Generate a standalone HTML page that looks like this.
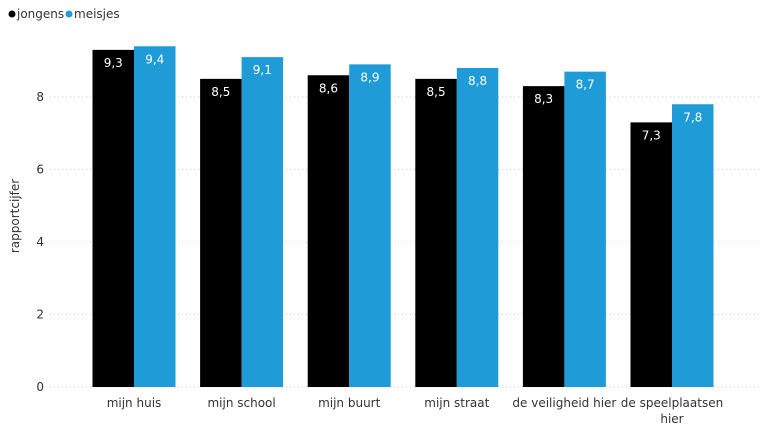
<!DOCTYPE html>
<html><head><meta charset="utf-8"><style>
body{margin:0;background:#fff;font-family:"DejaVu Sans","Liberation Sans",sans-serif;}
svg text{font-family:"DejaVu Sans","Liberation Sans",sans-serif;}
</style></head><body>
<svg id="chart" width="768" height="432">
  <g>
    <g><circle cx="12" cy="14" r="3.5" fill="#000"/><text x="17" y="18" font-size="12" fill="#333">jongens</text></g>
    <g><circle cx="69" cy="14" r="3.5" fill="#1f9bd7"/><text x="74" y="18" font-size="12" fill="#333">meisjes</text></g>
  </g>
  <text x="19" y="216" font-size="12" fill="#333" transform="rotate(-90 19 216)" text-anchor="middle">rapportcijfer</text>
  <g id="grid"></g><g id="bars"></g><g id="xlabels"></g>
</svg>
<script>
const categories=["mijn huis","mijn school","mijn buurt","mijn straat","de veiligheid hier","de speelplaatsen hier"];
const jongens=[9.3,8.5,8.6,8.5,8.3,7.3];
const meisjes=[9.4,9.1,8.9,8.8,8.7,7.8];
const yTicks=[0,2,4,6,8];
const NS="http://www.w3.org/2000/svg";
const y0=387,unit=36.25,bandStart=80.2,band=107.6,barW=41.5;
function y(v){return y0-v*unit;}
function x(i){return bandStart+i*band;}
function mk(t,a,p){const e=document.createElementNS(NS,t);for(const k in a)e.setAttribute(k,a[k]);p.appendChild(e);return e;}
const grid=document.getElementById('grid'),bars=document.getElementById('bars'),xl=document.getElementById('xlabels');
yTicks.forEach(v=>{
  const l=mk('line',{x1:50,x2:760,y1:y(v),y2:y(v),stroke:'#ccc','stroke-dasharray':'1,3'},grid);
  
  
  const t=mk('text',{x:44,y:y(v)+4,'font-size':12,fill:'#333','text-anchor':'end'},grid);
  t.textContent=v;
  
  
});
function fmt(v){return v.toFixed(1).replace('.',',');}
categories.forEach((c,i)=>{
  const cx=x(i)+band/2;
  [[jongens,'#000',cx-barW,'jongens'],[meisjes,'#1f9bd7',cx,'meisjes']].forEach(([arr,col,bx,s])=>{
    const r=mk('rect',{x:bx,y:y(arr[i]),width:barW,height:arr[i]*unit,fill:col},bars);
    
    
    const t=mk('text',{x:bx+barW/2,y:y(arr[i])+17,'font-size':12,fill:'#fff','text-anchor':'middle'},bars);
    t.textContent=fmt(arr[i]);
    
    
  });
  const words=c==="de speelplaatsen hier"?["de speelplaatsen","hier"]:[c];
  words.forEach((w,k)=>{
    const t=mk('text',{x:cx,y:407+k*16,'font-size':12,fill:'#333','text-anchor':'middle'},xl);
    t.textContent=w;
    
    
  });
});
</script>
</body></html>
